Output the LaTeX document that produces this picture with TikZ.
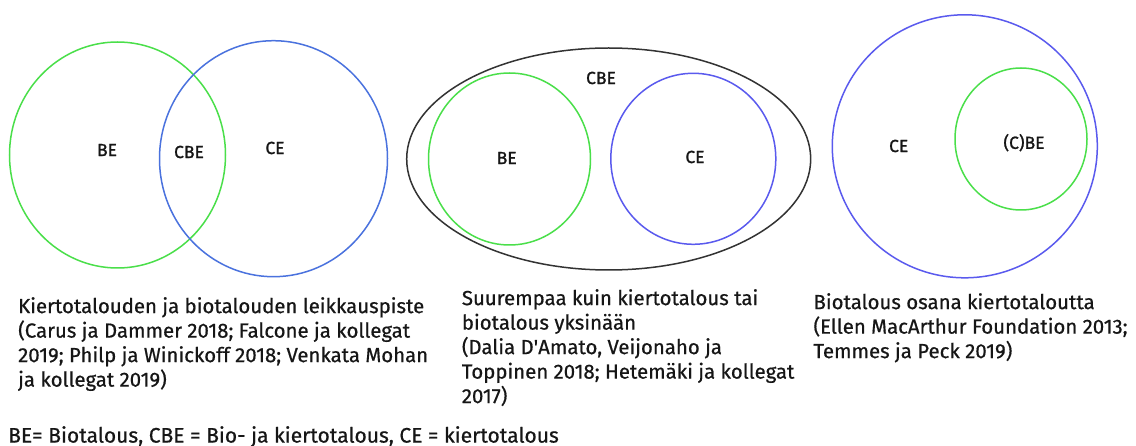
\documentclass[tikz,border=0pt]{standalone}
\usepackage{fontspec}
\setmainfont{Fira Sans}[FakeBold=0.6]
\newfontfamily\tagfont{Fira Sans}[FakeBold=1.2]
\usetikzlibrary{shapes.geometric}
\definecolor{beGreen}{HTML}{4ADF4A}
\definecolor{ceBlueA}{HTML}{4A72DE}
\definecolor{ceBlueB}{HTML}{5A5AEE}
\definecolor{cbeGray}{HTML}{333333}
\definecolor{txt}{HTML}{161616}
% straight apostrophe, kept out of the TeX ligature mapping
\newcommand{\straightquote}{\XeTeXglyph\XeTeXcharglyph"0027\relax}
\begin{document}
\begin{tikzpicture}[x=1pt,y=-1pt,
  ring/.style={ellipse, inner sep=0pt, line width=1.5pt, fill=none},
  tag/.style={inner sep=0pt, text=txt, font=\tagfont\fontsize{17.5}{20}\selectfont},
  caption/.style={anchor=north west, inner sep=0pt, align=left, text=txt,
    font=\fontsize{20.4}{24.5}\selectfont}]
\useasboundingbox[fill=white] (0,0) rectangle (1136,446);

% Panel 1: overlapping circles
\node[ring, draw=beGreen, minimum width=216pt, minimum height=226pt] (be1) at (117.5,155) {};
\node[ring, draw=ceBlueA, minimum width=228pt, minimum height=236pt] (ce1) at (273.5,158.7) {};
\node[tag] (be1t) at (107,150) {BE};
\node[tag] (cbe1t) at (189,152) {CBE};
\node[tag] (ce1t) at (275,148) {CE};

% Panel 2: both inside a larger ellipse
\node[ring, draw=cbeGray, minimum width=404pt, minimum height=222pt] (cbe2) at (608.7,159) {};
\node[ring, draw=beGreen, minimum width=162pt, minimum height=172pt] (be2) at (509.5,159) {};
\node[ring, draw=ceBlueB, minimum width=165pt, minimum height=171pt] (ce2) at (693.3,158.8) {};
\node[tag] (cbe2t) at (601,78) {CBE};
\node[tag] (be2t) at (506.7,158) {BE};
\node[tag] (ce2t) at (695,157) {CE};

% Panel 3: bioeconomy nested in circular economy
\node[ring, draw=ceBlueB, minimum width=265pt, minimum height=263pt] (ce3) at (964.8,146.3) {};
\node[ring, draw=beGreen, minimum width=132pt, minimum height=142pt] (be3) at (1021,139) {};
\node[tag] (ce3t) at (898.7,146) {CE};
\node[tag] (be3t) at (1024,142.7) {(C)BE};

% Captions
\node[caption] (cap1) at (18,297) {Kiertotalouden ja biotalouden leikkauspiste\\
(Carus ja Dammer 2018; Falcone ja kollegat\\
2019; Philp ja Winickoff 2018; Venkata Mohan\\
ja kollegat 2019)};
\node[caption] (cap2) at (461.7,289) {Suurempaa kuin kiertotalous tai\\
biotalous yksinään\\
(Dalia D\straightquote Amato, Veijonaho ja\\
Toppinen 2018; Hetemäki ja kollegat\\
2017)};
\node[caption] (cap3) at (813.3,293) {Biotalous osana kiertotaloutta\\
(Ellen MacArthur Foundation 2013;\\
Temmes ja Peck 2019)};
\node[caption, font=\fontsize{21}{24.5}\selectfont] (legend) at (8,426) {BE= Biotalous, CBE = Bio- ja kiertotalous, CE = kiertotalous};
\end{tikzpicture}
\end{document}
